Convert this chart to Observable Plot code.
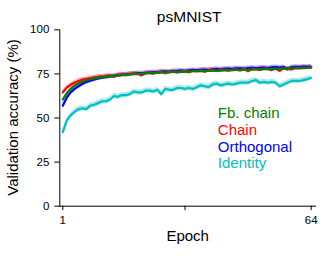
<!DOCTYPE html>
<html><head><meta charset="utf-8">
<script src="https://cdn.jsdelivr.net/npm/d3@7"></script>
<script src="https://cdn.jsdelivr.net/npm/@observablehq/plot@0.6"></script>
<style>body{margin:0;background:#fff}</style>
</head><body><div id="chart"></div>
<script>
const epochs = d3.range(1, 65);
const seriesNames = ["Fb. chain", "Chain", "Orthogonal", "Identity"];
const seriesColors = ["#008000", "#ff0000", "#0000ff", "#00bfbf"];
const fbChain = [60.5,64.0,66.5,68.3,69.6,70.6,71.4,72.0,72.5,72.9,
  73.2,73.5,73.7,73.9,74.1,74.3,74.5,74.7,74.9,75.0,
  75.2,75.3,75.4,75.6,75.7,75.8,75.9,76.0,76.1,76.1,
  76.2,76.3,76.4,76.5,76.5,76.6,76.7,76.7,76.8,76.9,
  76.9,77.0,77.1,77.1,77.2,77.3,77.3,77.4,77.5,77.5,
  77.6,77.7,77.7,77.8,77.9,77.9,78.0,78.1,78.1,78.2,
  78.3,78.3,78.4,78.5];
const chain = [64.5,67.2,68.8,70.0,71.0,71.8,72.2,72.6,73.0,73.4,
  73.4,73.9,74.0,73.3,74.5,74.8,74.3,75.0,75.3,75.0,
  74.2,75.5,75.6,75.2,75.9,76.1,75.5,76.0,76.4,75.9,
  76.3,76.6,76.0,76.8,76.5,77.0,76.3,77.1,77.3,76.7,
  77.2,77.5,76.8,77.4,77.6,77.0,77.8,76.6,77.7,77.9,
  77.3,78.0,77.8,77.2,78.1,76.8,78.2,78.0,77.6,78.4,
  78.3,78.6,78.5,78.8];
const orthogonal = [57.0,61.5,64.5,66.5,68.0,69.4,70.4,71.2,71.8,72.4,
  72.9,73.2,73.6,73.9,74.2,74.4,74.7,74.9,75.1,75.4,
  75.3,75.6,75.8,76.0,75.9,76.3,76.4,76.2,76.6,76.7,
  76.9,76.6,77.0,77.2,77.0,77.3,77.5,77.2,77.6,77.8,
  77.5,77.9,78.0,77.7,78.1,78.2,77.9,78.3,78.4,78.1,
  78.5,78.6,78.3,78.7,78.8,78.6,78.9,77.6,78.8,79.0,
  78.9,79.1,79.0,79.2];
const identity = [42.0,48.5,51.5,53.5,55.0,55.5,55.0,57.0,57.5,58.5,
  59.5,59.5,60.5,62.5,62.0,63.0,63.0,63.5,65.0,64.5,
  64.5,65.5,65.5,65.0,66.0,63.5,66.5,66.0,66.0,67.0,
  67.0,66.5,67.0,66.5,67.5,68.5,68.0,67.5,69.0,69.5,
  68.5,69.0,69.5,69.0,69.5,70.0,70.0,70.0,71.0,71.5,
  70.0,70.5,70.0,70.5,70.0,68.0,69.0,70.0,71.0,71.0,
  71.0,71.5,72.0,72.8];
const bandHalfWidth = [0.7, 1.2, 1.2, 1.5];
const yTicks = [0, 25, 50, 75, 100];
const xTicks = [1, 32, 64];
const xTickLabels = ["1", "", "64"];
const title = "psMNIST";
const xLabel = "Epoch";
const yLabel = "Validation accuracy (%)";

const seriesValues = [fbChain, chain, orthogonal, identity];
const drawOrder = [3, 2, 1, 0];
const rows = [];
for (const s of drawOrder) {
  seriesValues[s].forEach((v, i) => rows.push({
    series: seriesNames[s], epoch: epochs[i], acc: v,
    lo: v - bandHalfWidth[s], hi: v + bandHalfWidth[s]
  }));
}

const W = 329, H = 256;
const mL = 59.3, mR = 14, mT = 29.3, mB = 50.3;
const font = "'Liberation Sans', Arial, Helvetica, sans-serif";
const legendMarks = seriesNames.map((name, i) =>
  Plot.text([name], {text: d => d, frameAnchor: "top-left", dx: 158, dy: 83.8 + i * 16.67,
    fill: seriesColors[i], fontSize: 15, textAnchor: "start", lineAnchor: "middle"}));

const chart = Plot.plot({
  width: W, height: H,
  marginLeft: mL, marginRight: mR, marginTop: mT, marginBottom: mB,
  style: {fontFamily: font, fontSize: "11px", color: "black", background: "white", overflow: "visible"},
  x: {domain: [1, 64], insetLeft: 3, insetRight: 4.3},
  y: {domain: [0, 100]},
  color: {domain: seriesNames, range: seriesColors},
  marks: [
    Plot.areaY(rows, {x: "epoch", y1: "lo", y2: "hi", z: "series", fill: "series", fillOpacity: 0.32}),
    Plot.lineY(rows, {x: "epoch", y: "acc", z: "series", stroke: "series", strokeWidth: 2.2}),
    Plot.frame({anchor: "left", stroke: "black"}),
    Plot.frame({anchor: "bottom", stroke: "black"}),
    Plot.axisX({ticks: xTicks, tickFormat: d => xTickLabels[xTicks.indexOf(d)], tickSize: 4.5, tickPadding: 5.5,
      fontSize: 11.5, label: null, stroke: "black"}),
    Plot.axisY({ticks: yTicks, tickSize: 5, tickPadding: 5.5, fontSize: 11.5, label: null, stroke: "black"}),
    Plot.text([title], {text: d => d, frameAnchor: "top", dx: 1.5, dy: -12.6, fontSize: 15.5, lineAnchor: "middle"}),
    Plot.text([xLabel], {text: d => d, frameAnchor: "bottom", dy: 30, fontSize: 15, lineAnchor: "middle"}),
    Plot.text([yLabel], {text: d => d, frameAnchor: "left", fontSize: 15, lineAnchor: "middle", textAnchor: "middle"}),
    ...legendMarks
  ]
});
// rotate the y-axis title about its own centre, placed left of the frame
const yc = (mT + (H - mB)) / 2;
const xc = mL - 41.8;
d3.select(chart).selectAll("text").filter(function () { return this.textContent === yLabel; })
  .attr("x", null).attr("y", null)
  .attr("transform", `translate(${xc},${yc}) rotate(-90)`)
  .each(function () { const g = this.parentNode; if (g && g.tagName === "g") g.removeAttribute("transform"); });
document.getElementById("chart").appendChild(chart);
</script>
</body></html>
